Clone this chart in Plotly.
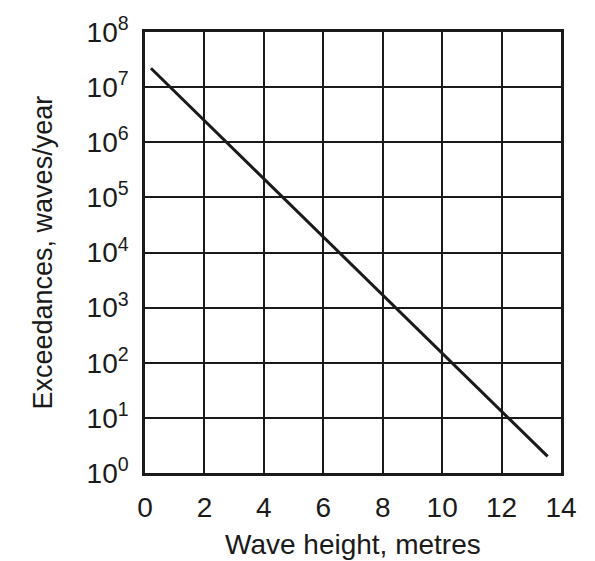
import plotly.graph_objects as go

# Data (straight line on log scale)
wave_height_m = [0.2, 13.55]
exceedances_per_year = [2.2e7, 2.0]

x_tick_vals = [0, 2, 4, 6, 8, 10, 12, 14]
x_tick_text = ["0", "2", "4", "6", "8", "10", "12", "14"]
y_tick_vals = [1, 10, 100, 1e3, 1e4, 1e5, 1e6, 1e7, 1e8]
y_tick_text = ["10<sup>%d</sup>" % i for i in range(9)]

x_title = "Wave height, metres"
y_title = "Exceedances, waves/year"

FONT = "Liberation Sans"
INK = "#1a1a1a"

fig = go.Figure()
fig.add_trace(go.Scatter(
    x=wave_height_m, y=exceedances_per_year, mode="lines",
    line=dict(color=INK, width=3), showlegend=False, hoverinfo="skip",
))

fig.update_layout(
    width=595, height=561,
    margin=dict(l=145, r=34, t=32, b=88),
    paper_bgcolor="white", plot_bgcolor="white",
    font=dict(family=FONT, color=INK, size=28),
    xaxis=dict(
        range=[0, 14], tickvals=x_tick_vals, ticktext=x_tick_text,
        showgrid=True, gridcolor=INK, gridwidth=1.5,
        showline=True, linecolor=INK, linewidth=2.5, mirror=True,
        ticks="", zeroline=False, ticklabelstandoff=8,
        tickfont=dict(size=28, family=FONT, color=INK),
    ),
    yaxis=dict(
        type="log", range=[0, 8], tickvals=y_tick_vals, ticktext=y_tick_text,
        showgrid=True, gridcolor=INK, gridwidth=1.5,
        showline=True, linecolor=INK, linewidth=2.5, mirror=True,
        ticks="", zeroline=False, ticklabelstandoff=8,
        tickfont=dict(size=28, family=FONT, color=INK),
    ),
    annotations=[
        dict(text=x_title, xref="paper", yref="paper", x=0.5, y=0,
             xanchor="center", yanchor="middle", yshift=-71, showarrow=False,
             font=dict(size=28, family=FONT, color=INK)),
        dict(text=y_title, xref="paper", yref="paper", x=0, y=0.5,
             xanchor="center", yanchor="middle", xshift=-103, showarrow=False,
             textangle=-90, font=dict(size=27, family=FONT, color=INK)),
    ],
)

fig.write_html("out.html")
